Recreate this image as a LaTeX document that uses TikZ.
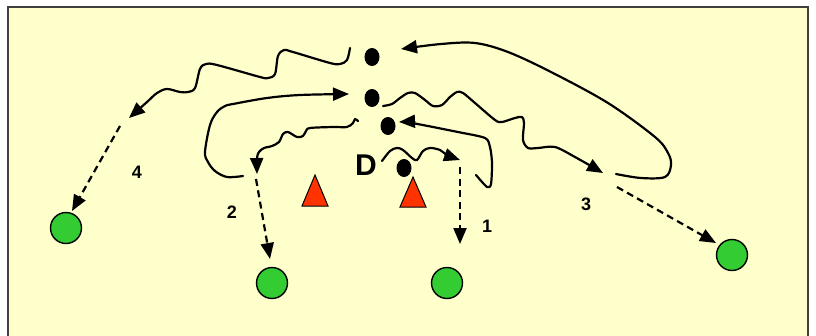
\documentclass[tikz,border=0pt]{standalone}
\usepackage{fontspec}
\setmainfont{Liberation Sans}
\usetikzlibrary{arrows.meta,shapes.geometric}
\definecolor{bgyellow}{HTML}{FFFFCC}
\definecolor{tred}{HTML}{FF3300}
\definecolor{cgreen}{HTML}{33CC33}
\tikzset{
 player/.style={ellipse, fill=black, minimum width=15pt, minimum height=18pt, inner sep=0pt},
 target/.style={circle, draw=black, line width=1.4pt, fill=cgreen, minimum size=31pt, inner sep=0pt},
 cone/.style={draw=black, line width=1pt, fill=tred, line join=miter},
 run/.style={line width=2.2pt, line cap=round, line join=round, -{Triangle[length=16pt,width=13pt]}},
 pass/.style={line width=2.2pt, dash pattern=on 7pt off 4.5pt, -{Triangle[length=16pt,width=13pt]}},
 num/.style={font=\bfseries\fontsize{18}{18}\selectfont, inner sep=0pt},
 bigD/.style={font=\bfseries\fontsize{30}{30}\selectfont, inner sep=0pt},
}
\begin{document}
\begin{tikzpicture}[x=1pt,y=-1pt]
\useasboundingbox (0,0) rectangle (816,335);
\clip (0,0) rectangle (816,335);
\draw[fill=bgyellow, line width=1.8pt, draw=black!75] (8,7) rectangle (808,345);

% players
\node[player] (pA) at (372,57) {};
\node[player] (pB) at (372,98) {};
\node[player] (pC) at (388,126) {};
\node[player] (pD) at (404,168) {};
\node[bigD] (dlab) at (366,165) {D};

% cones
\draw[cone] (315,175) -- (328,206) -- (302,206) -- cycle;
\draw[cone] (413,177) -- (426,207) -- (400,207) -- cycle;

% targets
\node[target] (g4) at (66,228) {};
\node[target] (g2) at (272,283) {};
\node[target] (g1) at (447,283) {};
\node[target] (g3) at (732,255) {};

% labels
\node[num] (n4) at (137,172) {4};
\node[num] (n2) at (232,212) {2};
\node[num] (n1) at (487,226) {1};
\node[num] (n3) at (586,204) {3};

% coordinates
\coordinate (wAs) at (350,48);
\coordinate (wAe) at (129,118);
\coordinate (d4s) at (120,126);
\coordinate (d4e) at (72,211);
\coordinate (bS) at (243,176);
\coordinate (bE) at (349,94);
\coordinate (w3s) at (358,121);
\coordinate (w3e) at (257,174);
\coordinate (d2s) at (256,179);
\coordinate (d2e) at (270,259);
\coordinate (wDs) at (382,161);
\coordinate (wDe) at (460,160);
\coordinate (d1s) at (460,167);
\coordinate (d1e) at (460,244);
\coordinate (cS) at (476,175);
\coordinate (cE) at (399,122);
\coordinate (wBs) at (383,106);
\coordinate (wBe) at (603,173);
\coordinate (d3s) at (617,187);
\coordinate (d3e) at (716,243);
\coordinate (aS) at (616,174);
\coordinate (aE) at (401,49);

% wavy run from A to the left
\draw[run] plot[smooth, tension=0.55] coordinates {(wAs) (347,60) (340,64) (330,63) (293,52) (284,50) (278,56) (275,74) (268,78) (260,77) (217,65) (206,64) (200,69) (195,88) (188,92) (180,92) (167,89) (157,93) (147,102) (wAe)};
\draw[pass] (d4s) -- (d4e);

% loop into B
\draw[run] plot[smooth, tension=0.55] coordinates {(bS) (227,177) (215,171) (208,162) (205,152) (210,125) (217,112) (225,106) (233,104) (267,98) (300,95) (bE)};

% wavy from C to 2
\draw[run] plot[smooth, tension=0.5] coordinates {(w3s) (355,119) (353,123) (347,127) (333,127) (310,128) (306,131) (303,136) (297,137) (288,132) (283,134) (279,142) (272,146) (264,148) (259,152) (257,158) (w3e)};
\draw[pass] (d2s) -- (d2e);

% wavy from D
\draw[run] plot[smooth, tension=0.55] coordinates {(wDs) (390,151) (397,148) (403,150) (412,158) (417,160) (423,151) (430,148) (440,150) (447,155) (wDe)};
\draw[pass] (d1s) -- (d1e);

% hook into C
\draw[run] plot[smooth, tension=0.45] coordinates {(cS) (487,187) (491,184) (492,163) (490,147) (485,138) (458,132) (412,123) (cE)};

% wavy from B to 3
\draw[run] plot[smooth, tension=0.5] coordinates {(wBs) (392,104) (400,98) (408,93) (415,93) (425,100) (433,106) (442,105) (450,97) (457,92) (463,93) (475,103) (495,120) (502,122) (515,118) (522,117) (524,123) (523,140) (528,148) (538,148) (555,147) (575,157) (wBe)};
\draw[pass] (d3s) -- (d3e);

% big arc back to A
\draw[run] plot[smooth, tension=0.55] coordinates {(aS) (641,178) (665,177) (671,165) (668,153) (655,137) (608,103) (551,72) (508,52) (475,43) (441,44) (aE)};
\end{tikzpicture}
\end{document}
